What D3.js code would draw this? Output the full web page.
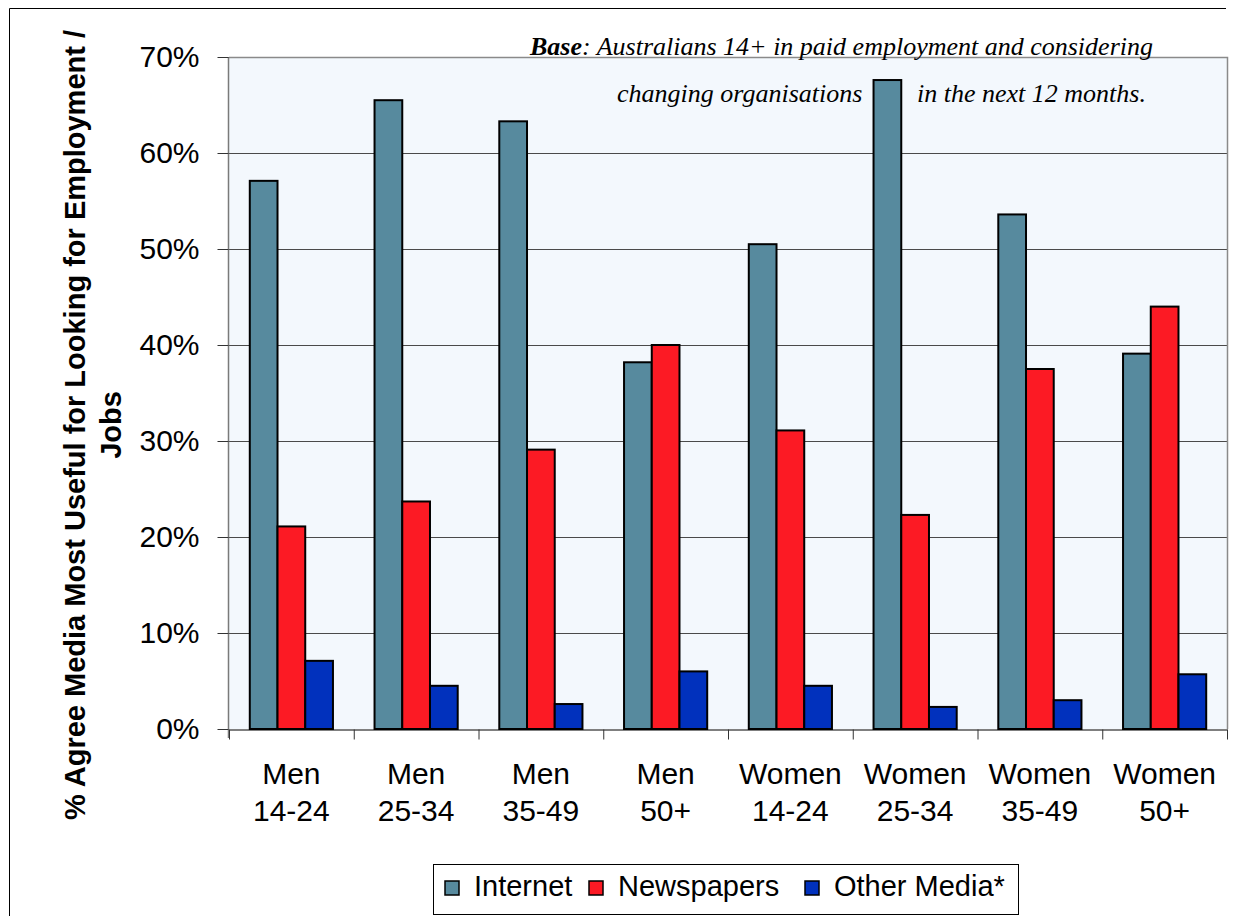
<!DOCTYPE html>
<html>
<head>
<meta charset="utf-8">
<script src="https://cdn.jsdelivr.net/npm/d3@7"></script>
<style>
  body { margin: 0; background: #fff; }
  svg { display: block; }
</style>
</head>
<body>
<div class="chart"></div>
<script>
var groups = ['Men|14-24', 'Men|25-34', 'Men|35-49', 'Men|50+', 'Women|14-24', 'Women|25-34', 'Women|35-49', 'Women|50+'];
var seriesNames = ['Internet', 'Newspapers', 'Other Media*'];
var internet = [57.1, 65.5, 63.3, 38.2, 50.5, 67.6, 53.6, 39.1];
var newspapers = [21.1, 23.7, 29.1, 40.0, 31.1, 22.3, 37.5, 44.0];
var otherMedia = [7.1, 4.5, 2.6, 6.0, 4.5, 2.3, 3.0, 5.7];
var yTicks = [0, 10, 20, 30, 40, 50, 60, 70];
var colors = ['#578a9e', '#fc1a24', '#0131bd'];

var W = 1244, H = 916;
var pLeft = 229, pRight = 1227, pTop = 57, pBottom = 729;

var svg = d3.select('.chart')
  .append('svg')
  .attr('width', W)
  .attr('height', H);

// outer frame (left + top only visible)
svg.append('path')
  .attr('d', 'M9.5,' + H + 'V8.5H1226')
  .attr('fill', 'none')
  .attr('stroke', '#000')
  .attr('stroke-width', 1);

var x0 = d3.scaleBand().domain(groups).range([pLeft, pRight]);
var x1 = d3.scaleBand().domain(seriesNames).range([0, x0.bandwidth()]).paddingOuter(0.75);
var y = d3.scaleLinear().domain([0, 70]).range([pBottom, pTop]);

// plot background
svg.append('rect')
  .attr('x', pLeft).attr('y', pTop)
  .attr('width', pRight - pLeft).attr('height', pBottom - pTop)
  .attr('fill', '#f3f8fd');

// gridlines
svg.append('g')
  .selectAll('line')
  .data(yTicks.filter(function (d) { return d > 0 && d < 70; }))
  .join('line')
  .attr('x1', pLeft).attr('x2', pRight)
  .attr('y1', function (d) { return Math.round(y(d)) + 0.5; })
  .attr('y2', function (d) { return Math.round(y(d)) + 0.5; })
  .attr('stroke', '#4a4a4a');

// plot border top/right
svg.append('path')
  .attr('d', 'M' + pLeft + ',' + (pTop + 0.5) + 'H' + (pRight + 0.5) + 'V' + pBottom)
  .attr('fill', 'none')
  .attr('stroke', '#8a8a8a')
  .attr('stroke-width', 1.5);

// note text (behind bars)
var note = svg.append('g')
  .attr('font-family', '"Liberation Serif", "Times New Roman", serif')
  .attr('font-style', 'italic')
  .attr('font-size', 26);
var n1 = note.append('text').attr('x', 530).attr('y', 55);
n1.append('tspan').attr('font-weight', 'bold').text('Base');
n1.append('tspan').text(': Australians 14+ in paid employment and considering');
note.append('text').attr('x', 617).attr('y', 102).text('changing organisations');
note.append('text').attr('x', 917).attr('y', 102).text('in the next 12 months.');

// bars
var seriesData = [internet, newspapers, otherMedia];
var gBars = svg.append('g');
seriesNames.forEach(function (s, si) {
  gBars.append('g')
    .selectAll('rect')
    .data(seriesData[si])
    .join('rect')
    .attr('x', function (d, i) { return x0(groups[i]) + x1(s); })
    .attr('y', function (d) { return y(d); })
    .attr('width', x1.bandwidth())
    .attr('height', function (d) { return pBottom - y(d); })
    .attr('fill', colors[si])
    .attr('stroke', '#000')
    .attr('stroke-width', 2);
});

// y axis
var yAxis = d3.axisLeft(y)
  .tickValues(yTicks)
  .tickSize(11)
  .tickPadding(18)
  .tickFormat(function (d) { return d + '%'; });
var gy = svg.append('g')
  .attr('transform', 'translate(' + (pLeft - 0.5) + ',0)')
  .call(yAxis);
gy.select('.domain').attr('stroke', '#7a7a7a').attr('stroke-width', 1.5)
  .attr('d', 'M0,' + pTop + 'V' + (pBottom + 9));
gy.selectAll('.tick line').attr('stroke', '#333');
gy.selectAll('.tick text')
  .attr('font-family', '"Liberation Sans", Arial, sans-serif')
  .attr('font-size', 30)
  .attr('fill', '#000');

// x axis
var xAxis = d3.axisBottom(x0).tickSize(0).tickFormat('');
var gx = svg.append('g')
  .attr('transform', 'translate(0,' + (pBottom + 0.5) + ')')
  .call(xAxis);
gx.select('.domain').attr('stroke', '#000').attr('stroke-width', 1.2);
gx.selectAll('.tick').remove();
gx.selectAll('.sep')
  .data(groups.concat(['end']))
  .join('line')
  .attr('class', 'sep')
  .attr('x1', function (d, i) { return pLeft + i * x0.step() + 0.5; })
  .attr('x2', function (d, i) { return pLeft + i * x0.step() + 0.5; })
  .attr('y1', 0).attr('y2', 10)
  .attr('stroke', '#333');

var labels = svg.append('g')
  .attr('font-family', '"Liberation Sans", Arial, sans-serif')
  .attr('font-size', 30)
  .attr('text-anchor', 'middle');
groups.forEach(function (g) {
  var parts = g.split('|');
  var cx = x0(g) + x0.bandwidth() / 2;
  labels.append('text').attr('x', cx).attr('y', 784).text(parts[0]);
  labels.append('text').attr('x', cx).attr('y', 821).text(parts[1]);
});

// y axis title
var ytitle = svg.append('g')
  .attr('font-family', '"Liberation Sans", Arial, sans-serif')
  .attr('font-weight', 'bold')
  .attr('font-size', 29)
  .attr('text-anchor', 'middle');
ytitle.append('text')
  .attr('transform', 'translate(85,425) rotate(-90)')
  .text('% Agree Media Most Useful for Looking for Employment /');
ytitle.append('text')
  .attr('transform', 'translate(121,425) rotate(-90)')
  .text('Jobs');

// legend
var legend = svg.append('g');
legend.append('rect')
  .attr('x', 433.5).attr('y', 864.5)
  .attr('width', 585).attr('height', 50)
  .attr('fill', '#fff').attr('stroke', '#000');
var legX = [445, 589, 805];
seriesNames.forEach(function (s, i) {
  legend.append('rect')
    .attr('x', legX[i]).attr('y', 881)
    .attr('width', 14).attr('height', 14)
    .attr('fill', colors[i]).attr('stroke', '#000').attr('stroke-width', 1.5);
  legend.append('text')
    .attr('x', legX[i] + 29).attr('y', 896)
    .attr('font-family', '"Liberation Sans", Arial, sans-serif')
    .attr('font-size', 29)
    .text(s);
});
</script>
</body>
</html>
